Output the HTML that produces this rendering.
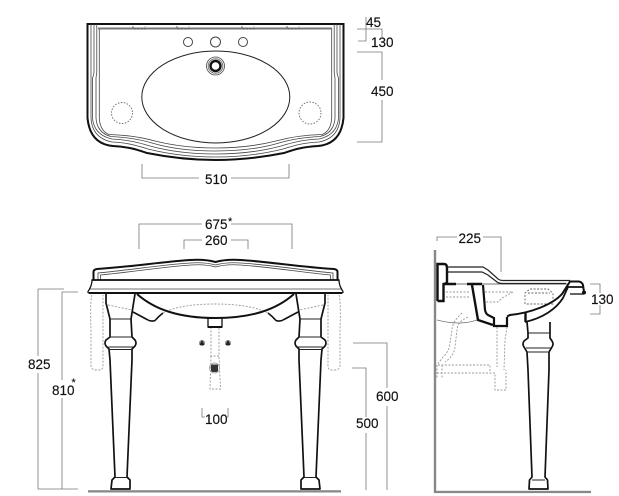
<!DOCTYPE html>
<html><head><meta charset="utf-8"><style>
html,body{margin:0;padding:0;background:#fff}
svg{display:block}
text{font-family:"Liberation Sans",sans-serif;font-size:13.5px;fill:#111;stroke:#111;stroke-width:.15}
.s{font-size:11px}
.k{fill:none;stroke:#111;stroke-width:2}
.m{fill:none;stroke:#222;stroke-width:1.2}
.t{fill:none;stroke:#444;stroke-width:.8}
.l{fill:none;stroke:#222;stroke-width:1.100}
.d{fill:none;stroke:#777;stroke-width:.8}
.h{fill:none;stroke:#999;stroke-width:.9;stroke-dasharray:2 1.5}
</style></head><body>
<svg width="619" height="496" viewBox="0 0 619 496" xmlns="http://www.w3.org/2000/svg">
<rect width="619" height="496" fill="#fff"/>
<!-- TOP VIEW -->
<g>
<path class="k" d="M215.500 160C195 160 172 158 147 153C138 150 130 147 113 146Q90 144 87.500 118V24H215.500"/>
<path class="t" d="M91 24V118Q92 138 112 142C130 143 138 146 148 149C172 155 195 157 215.500 157"/>
<path class="t" d="M94 24V72Q94 75 92.500 78V118Q94 135 112 139C130 140 140 143 150 146C172 152 195 154 215.500 154"/>
<path class="t" d="M96.800 24V72L96 78V118Q97 133 111 136.500C130 137.500 142 140 152 143C172 149 195 151 215.500 151"/>
<path class="t" d="M99.300 28V118Q100 131 109 134.500C130 135 144 138 155 141C175 146 195 148 215.500 148"/>
</g>
<g transform="translate(431,0) scale(-1,1)">
<path class="k" d="M215.500 160C195 160 172 158 147 153C138 150 130 147 113 146Q90 144 87.500 118V24H215.500"/>
<path class="t" d="M91 24V118Q92 138 112 142C130 143 138 146 148 149C172 155 195 157 215.500 157"/>
<path class="t" d="M94 24V72Q94 75 92.500 78V118Q94 135 112 139C130 140 140 143 150 146C172 152 195 154 215.500 154"/>
<path class="t" d="M96.800 24V72L96 78V118Q97 133 111 136.500C130 137.500 142 140 152 143C172 149 195 151 215.500 151"/>
<path class="t" d="M99.300 28V118Q100 131 109 134.500C130 135 144 138 155 141C175 146 195 148 215.500 148"/>
</g>
<path d="M98 28.500H332" fill="none" stroke="#777" stroke-width="2"/>
<path class="h" d="M133 26V29H145V26M177 26V29H189V26M242 26V29H254V26M287 26V29H299V26" style="stroke:#555"/>
<circle cx="188" cy="42" r="4.500" class="t" style="stroke-width:1"/>
<circle cx="215.500" cy="42" r="5" class="t" style="stroke-width:1"/>
<circle cx="243" cy="42" r="4.500" class="t" style="stroke-width:1"/>
<ellipse cx="215.800" cy="97" rx="74" ry="46" fill="none" stroke="#222" stroke-width="1"/>
<circle cx="215.500" cy="66" r="9" fill="#fff" stroke="#444" stroke-width=".8"/>
<circle cx="215.500" cy="66" r="7.300" fill="#fff" stroke="#777" stroke-width="1"/>
<circle cx="215.500" cy="66" r="5" fill="#fff" stroke="#111" stroke-width="2.400"/>
<circle cx="122" cy="113" r="10.500" class="h" style="stroke:#666;stroke-width:.9;stroke-dasharray:1.5 1.5"/>
<circle cx="310" cy="113" r="11" class="h" style="stroke:#666;stroke-width:.9;stroke-dasharray:1.5 1.5"/>
<g class="d">
<path d="M366 17V41H358M357 29H382V37M357 52H382V80M382 100V142H357"/>
<path d="M142 164V178H199M231 178H289V164"/>
</g>
<text x="366" y="27">45</text>
<text x="371" y="47">130</text>
<text x="371" y="96">450</text>
<text x="205" y="184">510</text>
<!-- FRONT VIEW -->
<g class="d">
<path d="M139 249V224H202M231 224H292V249"/>
<path d="M184 249V240H202M231 240H248V249"/>
<path d="M38 289H64M38 289V356M38 373V489H78M62 292H78M62 292V380M62 398V489"/>
<path d="M353 343H387V388M387 406V490M352 368H366V417M366 433V490"/>
<path d="M202 408V417H205M228 408V417H226"/>
</g>
<text x="28" y="369">825</text>
<text x="52" y="395">810</text>
<text class="s" x="71.500" y="386">*</text>
<text x="205" y="229">675</text>
<text class="s" x="228" y="225">*</text>
<text x="205" y="245">260</text>
<text x="376" y="401">600</text>
<text x="356" y="428">500</text>
<text x="205" y="424">100</text>
<!-- dashed back elements -->
<path class="h" d="M92 295Q90 300 91 330V365Q91 370 96 370H100Q103 370 103 365V295"/>
<path class="h" d="M339 295Q341 300 340 330V365Q340 370 335 370H331Q328 370 328 365V295"/>
<path class="h" d="M163 313Q180 304 215 304Q250 304 268 313"/>
<path class="h" d="M108 288H132L145 291M323 288H299L286 291M178 290Q184 284 192 290M253 290Q246 284 239 290"/>
<path class="h" d="M108 305L132 310M323 305L299 310"/>
<path class="h" d="M211 327V356H219V327M211 356L210 389H220.500L219 356"/>
<!-- front basin -->
<path class="k" d="M93.500 280V272Q93.500 269.500 97 269C130 267 160 262 190 260Q205 259 215.500 262Q226 259 241 260C271 262 301 267 334 269Q337.500 269.500 337.500 272V280"/>
<path class="t" d="M98 280V273C130 270 160 265 190 263Q205 262 215.500 265Q226 262 241 263C271 265 301 270 333 273V280"/>
<path class="t" d="M100.500 280V275C132 272 162 267 191 265Q205 264 215.500 267Q226 264 240 265C269 267 299 272 330.500 275V280"/>
<path d="M92 280Q92 285 89 290Q86.500 293 90 293H341Q344.500 293 342 290Q339 285 339 280Z" fill="#fff" stroke="#111" stroke-width="1.300"/>
<path d="M92 280H339" class="k" style="stroke-width:1.800"/>
<path d="M89 293H342" class="k" style="stroke-width:2"/>
<path d="M90 289H341" class="t"/>
<path class="k" d="M137 294C155 310 180 318 215.500 318C251 318 276 310 294 294"/>
<path class="k" style="stroke-width:1.600" d="M133 312L147 319.500Q151 322 155 320.500Q159 316 163 313M298 312L284 319.500Q280 322 276 320.500Q272 316 268 313"/>
<path class="k" style="stroke-width:1.300" d="M208 318V327H222V318"/>
<path d="M208 327H222" class="k"/>
<!-- fittings -->
<circle cx="202" cy="343" r="3" fill="#888"/><path d="M202 340L199.500 345H204.500Z" fill="#222"/>
<circle cx="228" cy="343" r="3" fill="#888"/><path d="M228 340L225.500 345H230.500Z" fill="#222"/>
<rect x="211" y="364.500" width="7" height="7.500" fill="#333"/>
<circle cx="214.500" cy="368" r="5" fill="none" stroke="#aaa" stroke-width="1"/>
<!-- legs -->
<g>
<path fill="none" stroke="#111" stroke-width="1.700" stroke-linejoin="round" d="M106 294V303L110 319V337L106 340Q104 343 106 346L109 349L110 360L115 477L112 480L111 489H130L130 480L127 477L132 360L132 349L135 346Q137 343 135 340L132 337L131 319L135 294"/>
<path class="l" d="M109 319H132M110 337H132M108.500 347H133M109 349.500H132M115 477.500H127"/>
</g>
<g transform="translate(431,0) scale(-1,1)">
<path fill="none" stroke="#111" stroke-width="1.700" stroke-linejoin="round" d="M106 294V303L110 319V337L106 340Q104 343 106 346L109 349L110 360L115 477L112 480L111 489H130L130 480L127 477L132 360L132 349L135 346Q137 343 135 340L132 337L131 319L135 294"/>
<path class="l" d="M109 319H132M110 337H132M108.500 347H133M109 349.500H132M115 477.500H127"/>
</g>
<rect x="88" y="490.200" width="253" height="2.300" fill="#888"/>
<!-- SIDE VIEW -->
<rect x="433.800" y="250" width="2.400" height="243" fill="#888"/>
<rect x="434" y="490.800" width="157" height="2.300" fill="#888"/>
<g class="d">
<path d="M437 241V237H457M483 237H501V272"/>
<path d="M590 284H600V293M600 305V314H590"/>
</g>
<text x="458.500" y="243">225</text>
<text x="591" y="304">130</text>
<!-- side dashed -->
<path class="h" d="M446 292H470M446 297H470M485 292H513L502 298L498 302H485"/>
<path class="h" d="M462 313Q452 322 452 330L450 343Q449 352 443 357L437 365M468 317Q457 322 457 330L455 347Q454 356 445 362"/>
<path class="h" d="M497 327V367M507 327L505 340L504 370M438 365H490V373M437 373H488L495 373V390H506V370M437 365V378M442 365V378"/>
<path class="h" d="M525 304V293L530 289H548L553 293V304H525M528 293H550" style="stroke:#666"/>
<!-- side solid -->
<path class="k" style="stroke-width:2.400" d="M437.500 301V264H444Q447 264 447 268V283L443.500 284V301H437.500"/>
<path class="k" style="stroke-width:2.400" d="M444 284H456M467 284H482"/>
<path class="t" d="M456 284H467M482 284H568"/>
<path class="m" d="M447 267H483L488 270L497 278Q499 280.500 503 280.500H570"/>
<path class="m" d="M447 272H482L488 275L497 282Q499 283.500 503 283.500H566"/>
<path class="t" d="M437 320Q460 326 477 320" style="stroke:#777"/>
<path class="k" style="stroke-width:2.400" d="M472 285L478 320L493 325"/>
<path class="k" style="stroke-width:2.200" d="M483 285L485 310Q486 314 488 315L494 318V326H507V317"/>
<path class="k" d="M507 316.500L510 315C530 313 552 305 562 294L570 281.500H579Q582 282 583 285L584 292"/>
<path class="k" d="M525 322C543 318 556 309 563 298L568 287H583" style="stroke-width:1.800"/>
<path class="k" style="stroke-width:1.300" d="M570 294H584"/>
<circle cx="584" cy="292.500" r="2" fill="#111"/>
<path class="k" style="stroke-width:2.400" d="M525.500 313V322"/>
<path fill="none" stroke="#111" stroke-width="1.700" stroke-linejoin="round" d="M527 322L528 333V338L524 341Q522 344 524 347L527 352L528 370L532 477L529.500 480L529 489H548L547.500 480L545 477L549 370L549 352L552 347Q554 344 552 341L550 338V333L550 322"/>
<path class="l" d="M527.500 333H550M526 348H551M527 352H550M532 480H545"/>
</svg>
</body></html>
